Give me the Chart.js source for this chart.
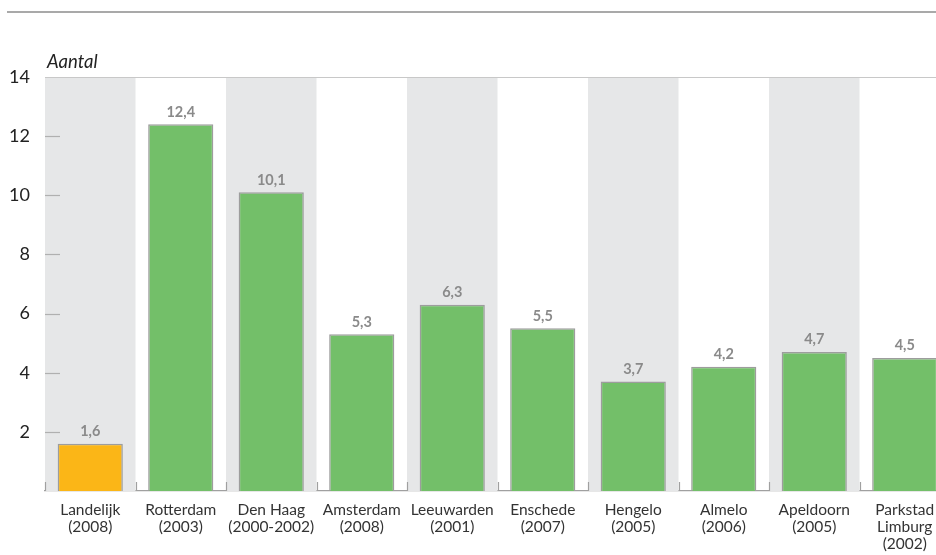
<!DOCTYPE html>
<html>
<head>
<meta charset="utf-8">
<script src="https://cdn.jsdelivr.net/npm/chart.js@4"></script>
<style>
  html, body { margin: 0; padding: 0; background: #fff; overflow: hidden; }
  #wrap { width: 955px; height: 555px; position: relative; }
</style>
</head>
<body>
<div id="wrap"><canvas id="chart"></canvas></div>
<script>
// categorieen (stad + jaar)
const categories = [
  ['Landelijk', '(2008)'],
  ['Rotterdam', '(2003)'],
  ['Den Haag', '(2000-2002)'],
  ['Amsterdam', '(2008)'],
  ['Leeuwarden', '(2001)'],
  ['Enschede', '(2007)'],
  ['Hengelo', '(2005)'],
  ['Almelo', '(2006)'],
  ['Apeldoorn', '(2005)'],
  ['Parkstad', 'Limburg', '(2002)']
];

// aantallen
const values = [1.6, 12.4, 10.1, 5.3, 6.3, 5.5, 3.7, 4.2, 4.7, 4.5];

// y-as
const yTicks = [2, 4, 6, 8, 10, 12, 14];
const yTitle = 'Aantal';

const FONT = 'Lato, "DejaVu Sans", sans-serif';
const GREEN = '#73bf69';
const ORANGE = '#fbb617';

// achtergrond, lijnen en streepjes
const decorPlugin = {
  id: 'decor',
  beforeDatasetsDraw(chart) {
    const ctx = chart.ctx;
    const area = chart.chartArea;
    const x = chart.scales.x;
    const y = chart.scales.y;
    const step = x.getPixelForValue(1) - x.getPixelForValue(0);
    ctx.save();
    // grijze banen
    ctx.fillStyle = '#e6e7e8';
    for (let i = 0; i < categories.length; i += 2) {
      const c = x.getPixelForValue(i);
      ctx.fillRect(c - step / 2, area.top, step, area.bottom - area.top);
    }
    // bovenlijn van het plotvlak
    ctx.strokeStyle = '#c8c8c8';
    ctx.lineWidth = 1;
    ctx.beginPath();
    ctx.moveTo(area.left, area.top + 0.5);
    ctx.lineTo(chart.width, area.top + 0.5);
    ctx.stroke();
    // y streepjes
    ctx.strokeStyle = '#b0b0b0';
    ctx.lineWidth = 1.2;
    yTicks.forEach(function(v) {
      if (v >= 14) return;
      const py = Math.round(y.getPixelForValue(v)) + 0.5;
      ctx.beginPath();
      ctx.moveTo(area.left, py);
      ctx.lineTo(area.left + 15, py);
      ctx.stroke();
    });
    // x streepjes tussen categorieen
    ctx.strokeStyle = '#a0a0a0';
    for (let i = 0; i <= categories.length; i++) {
      const px = Math.round(x.getPixelForValue(i) - step / 2) + 0.5;
      ctx.beginPath();
      ctx.moveTo(px, area.bottom - 9);
      ctx.lineTo(px, area.bottom);
      ctx.stroke();
    }
    ctx.restore();
  },
  afterDraw(chart) {
    const ctx = chart.ctx;
    const area = chart.chartArea;
    ctx.save();
    // lijn bovenaan de pagina
    ctx.strokeStyle = '#8c8c8c';
    ctx.lineWidth = 1.5;
    ctx.beginPath();
    ctx.moveTo(7, 12);
    ctx.lineTo(chart.width, 12);
    ctx.stroke();
    // as-titel
    ctx.fillStyle = '#222';
    ctx.font = 'italic 18.5px ' + FONT;
    ctx.textAlign = 'left';
    ctx.textBaseline = 'alphabetic';
    ctx.fillText(yTitle, area.left + 2, 68);
    // waarden boven de staven
    const meta = chart.getDatasetMeta(0);
    ctx.fillStyle = '#8a8a8a';
    ctx.font = 'bold 14.5px ' + FONT;
    ctx.textAlign = 'center';
    ctx.textBaseline = 'bottom';
    meta.data.forEach(function(bar, i) {
      ctx.fillText(values[i].toFixed(1).replace('.', ','), bar.x, bar.y - 5);
    });
    ctx.restore();
  }
};

const ctx = document.getElementById('chart').getContext('2d');
new Chart(ctx, {
  type: 'bar',
  data: {
    labels: categories,
    datasets: [{
      data: values,
      backgroundColor: values.map(function(v, i) { return i === 0 ? ORANGE : GREEN; }),
      borderColor: '#9d9d9d',
      borderWidth: 1.5,
      borderSkipped: 'bottom',
      categoryPercentage: 1,
      barPercentage: 0.72
    }]
  },
  options: {
    responsive: true,
    maintainAspectRatio: false,
    animation: false,
    layout: { padding: { top: 77, right: 5, left: 0, bottom: 0 } },
    plugins: {
      legend: { display: false },
      tooltip: { enabled: false },
      title: { display: false }
    },
    scales: {
      x: {
        offset: true,
        grid: { display: false, drawTicks: false },
        border: { display: true, color: '#a0a0a0', width: 1.2 },
        ticks: {
          color: '#333',
          font: { family: FONT, size: 15.5, lineHeight: 1.1 },
          padding: 10,
          maxRotation: 0,
          autoSkip: false
        },
        afterFit: function(s) { s.height = 64; }
      },
      y: {
        min: 0,
        max: 14,
        grid: { display: false, drawTicks: false },
        border: { display: false },
        afterBuildTicks: function(s) {
          s.ticks = yTicks.map(function(v) { return { value: v }; });
        },
        ticks: {
          color: '#222',
          font: { family: FONT, size: 18 },
          padding: 15
        },
        afterFit: function(s) { s.width = 45; }
      }
    }
  },
  plugins: [decorPlugin]
});
</script>
</body>
</html>
